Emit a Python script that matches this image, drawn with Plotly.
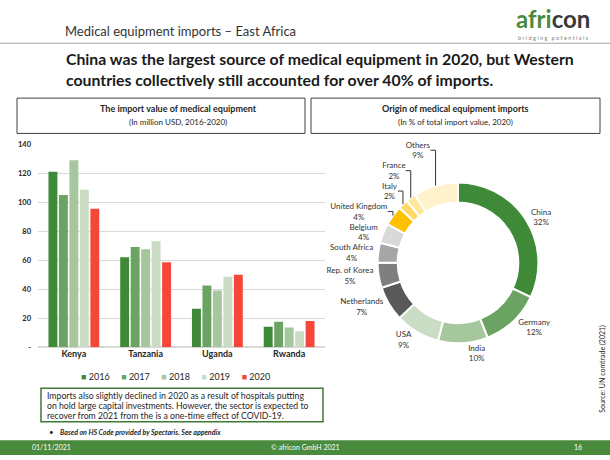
import plotly.graph_objects as go

# bar chart data (million USD)
countries = ["Kenya", "Tanzania", "Uganda", "Rwanda"]
years = ["2016", "2017", "2018", "2019", "2020"]
v2016 = [121, 62, 26.5, 14]
v2017 = [105, 69, 42.5, 17.5]
v2018 = [129, 67.5, 39, 13.5]
v2019 = [108.5, 73, 48.5, 11]
v2020 = [95.5, 58.5, 50, 18]
bar_colors = ["#3f8a38", "#6ba363", "#a6c69d", "#cadcc4", "#f4473a"]

y_ticks = [0, 20, 40, 60, 80, 100, 120, 140]
y_ticktext = ["-", "20", "40", "60", "80", "100", "120", "140"]

# donut data (% of import value, 2020)
origins = ["China", "Germany", "India", "USA", "Netherlands", "Rep. of Korea",
           "South Africa", "Belgium", "United Kingdom", "Italy", "France", "Others"]
shares = [32, 12, 10, 9, 7, 5, 4, 4, 4, 2, 2, 9]
origin_colors = ["#3f8a38", "#6ba363", "#a6c69d", "#cadcc4", "#595959", "#7f7f7f",
                 "#a6a6a6", "#d9d9d9", "#ffc000", "#ffd966", "#ffe699", "#fff2cc"]

note_lines = ["Imports also slightly declined in 2020 as a result of hospitals putting",
              "on hold large capital investments. However, the sector is expected to",
              "recover from 2021 from the is a one-time effect of COVID-19."]

W, H = 610, 460
FONT = "Lato"
GREEN = "#4a8a3c"


def px(x):
    return x / W


def py(y):
    return 1 - y / H


fig = go.Figure()

for yr, vals, col in zip(years, [v2016, v2017, v2018, v2019, v2020], bar_colors):
    fig.add_trace(go.Bar(x=countries, y=vals, name=yr, marker=dict(color=col, line=dict(width=0))))

fig.add_trace(go.Pie(
    labels=origins, values=shares, hole=0.75, sort=False, direction="clockwise",
    rotation=0, marker=dict(colors=origin_colors, line=dict(color="white", width=2)),
    texttemplate="%{label}<br>%{value}%", textposition="outside",
    textfont=dict(size=8, color="#333333", family=FONT),
    domain=dict(x=[px(376), px(540)], y=[py(346), py(182)]),
    showlegend=False,
))

fig.update_layout(
    width=W, height=H, margin=dict(l=0, r=0, t=0, b=0),
    paper_bgcolor="white", plot_bgcolor="white",
    font=dict(family=FONT, color="#262626"),
    barmode="group", bargap=0.27, bargroupgap=0.15, showlegend=False,
    xaxis=dict(domain=[px(38), px(325)], showline=False, ticks="",
               tickvals=countries, ticktext=["<b>%s</b>" % c for c in countries],
               tickfont=dict(size=9, color="#262626")),
    yaxis=dict(domain=[py(350), py(143)], range=[0, 140], tickvals=y_ticks,
               ticktext=["<b>%s</b>" % t for t in y_ticktext],
               showgrid=True, gridcolor="#d9d9d9", gridwidth=1, zeroline=True,
               zerolinecolor="#d9d9d9", tickfont=dict(size=7.5, color="#262626"),
               ticklabelstandoff=6),
)

shapes = [
    dict(type="line", xref="paper", yref="paper", x0=0, x1=1, y0=py(40), y1=py(40),
         line=dict(color="#a6a6a6", width=1)),
    dict(type="rect", xref="paper", yref="paper", x0=px(17), x1=px(305), y0=py(132), y1=py(96),
         line=dict(color="#404040", width=1)),
    dict(type="rect", xref="paper", yref="paper", x0=px(311), x1=px(600), y0=py(132), y1=py(96),
         line=dict(color="#404040", width=1)),
    dict(type="rect", xref="paper", yref="paper", x0=px(41), x1=px(323), y0=py(426), y1=py(392),
         line=dict(color="#3f7a35", width=1.5)),
    dict(type="rect", xref="paper", yref="paper", x0=0, x1=1, y0=0, y1=py(445),
         fillcolor=GREEN, line=dict(width=0)),
]
fig.update_layout(shapes=shapes)


def note(x, y, text, size, xanchor="left", color="#262626", **kw):
    fig.add_annotation(xref="paper", yref="paper", x=px(x), y=py(y), text=text, showarrow=False,
                       xanchor=xanchor, yanchor="middle", font=dict(size=size, color=color, family=FONT),
                       **kw)


# legend drawn as one line of coloured squares + years
legend_text = "&nbsp;&nbsp;&nbsp;&nbsp;&nbsp;".join(
    "<span style='color:%s'>■</span>&nbsp;%s" % (c, y) for y, c in zip(years, bar_colors))
note(175, 380, legend_text, 9, xanchor="center")

note(63, 28, "Medical equipment imports – East Africa", 13, color="#333333")
note(591, 15, "<b><span style='color:#4a8a3c'>afri</span><span style='color:#3a3a3a'>con</span></b>",
     24, xanchor="right", borderpad=0)
note(590, 34.5, "b r i d g i n g &nbsp; p o t e n t i a l s", 5.5, xanchor="right", color="#808080",
     borderpad=0)
note(64, 66, "<b>China was the largest source of medical equipment in 2020, but Western<br>"
     "countries collectively still accounted for over 40% of imports.</b>", 15.8, color="#1a1a1a",
     align="left")
note(178, 107, "<b>The import value of medical equipment</b>", 9, xanchor="center")
note(178, 120, "(In million USD, 2016-2020)", 8, xanchor="center")
note(455, 107, "<b>Origin of medical equipment imports</b>", 9, xanchor="center")
note(455, 120, "(In % of total import value, 2020)", 8, xanchor="center")
for i, line in enumerate(note_lines):
    note(45, 399 + i * 10.3, line, 8.7)
note(47, 437, "•", 8)
note(58, 437, "<b><i>Based on HS Code provided by Spectaris. See appendix</i></b>", 7)
note(30, 452, "01/11/2021", 7, color="white")
note(305, 452, "© africon GmbH 2021", 7, xanchor="center", color="white")
note(578, 452, "16", 7, xanchor="center", color="white")
fig.add_annotation(xref="paper", yref="paper", x=px(603), y=py(372), text="Source: UN comtrade (2021)",
                   showarrow=False, textangle=-90, xanchor="center", yanchor="middle",
                   font=dict(size=7, color="#262626", family=FONT))

fig.write_html("out.html", config={"displayModeBar": False},
               post_script="document.body.style.margin='0px';")
